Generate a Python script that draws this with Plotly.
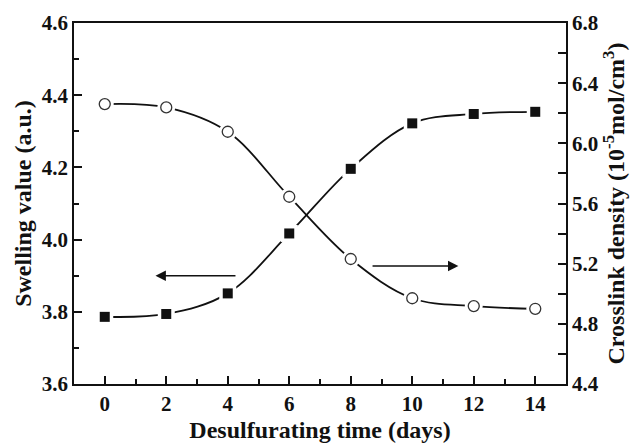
import plotly.graph_objects as go

# Desulfurating time (days)
days = [0, 2, 4, 6, 8, 10, 12, 14]
# Swelling value (a.u.), left axis
swelling = [3.786, 3.794, 3.851, 4.017, 4.196, 4.322, 4.348, 4.354]
# Crosslink density (10^-5 mol/cm^3), right axis
crosslink = [6.261, 6.239, 6.077, 5.645, 5.231, 4.970, 4.918, 4.900]

x_ticks = [0, 2, 4, 6, 8, 10, 12, 14]
left_ticks = [3.6, 3.8, 4.0, 4.2, 4.4, 4.6]
right_ticks = [4.4, 4.8, 5.2, 5.6, 6.0, 6.4, 6.8]

FONT = "Liberation Serif"
INK = "#111111"

fig = go.Figure()

# smooth connecting curves
fig.add_trace(go.Scatter(x=days, y=swelling, mode="lines",
                         line=dict(color=INK, width=1.8, shape="spline", smoothing=1.0),
                         hoverinfo="skip", showlegend=False))
fig.add_trace(go.Scatter(x=days, y=crosslink, yaxis="y2", mode="lines",
                         line=dict(color=INK, width=1.8, shape="spline", smoothing=1.0),
                         hoverinfo="skip", showlegend=False))

# white halos leave small gaps between curve and symbols
fig.add_trace(go.Scatter(x=days, y=swelling, mode="markers",
                         marker=dict(symbol="square", size=17, color="white", line=dict(width=0)),
                         hoverinfo="skip", showlegend=False))
fig.add_trace(go.Scatter(x=days, y=crosslink, yaxis="y2", mode="markers",
                         marker=dict(symbol="circle", size=18, color="white", line=dict(width=0)),
                         hoverinfo="skip", showlegend=False))

# symbols
fig.add_trace(go.Scatter(x=days, y=swelling, mode="markers", name="Swelling value",
                         marker=dict(symbol="square", size=10, color=INK, line=dict(width=0)),
                         showlegend=False))
fig.add_trace(go.Scatter(x=days, y=crosslink, yaxis="y2", mode="markers", name="Crosslink density",
                         marker=dict(symbol="circle", size=11, color="white",
                                     line=dict(width=1.3, color="#333333")),
                         showlegend=False))

# arrows pointing to the axis each curve belongs to
fig.add_annotation(x=1.65, y=3.9, ax=4.3, ay=3.9, xref="x", yref="y", axref="x", ayref="y",
                   text="", showarrow=True, arrowhead=2, arrowsize=1.3, arrowwidth=1.6,
                   arrowcolor=INK)
fig.add_annotation(x=11.5, y=5.184, ax=8.66, ay=5.184, xref="x", yref="y2", axref="x", ayref="y2",
                   text="", showarrow=True, arrowhead=2, arrowsize=1.3, arrowwidth=1.6,
                   arrowcolor=INK)

tick_font = dict(family=FONT, size=21, color=INK, weight="bold")
title_font = dict(family=FONT, size=24, color=INK, weight="bold")

axis_common = dict(showgrid=False, zeroline=False, showline=True, linecolor=INK, linewidth=1.6,
                   ticks="inside", ticklen=8, tickwidth=1.5, tickcolor=INK,
                   tickfont=tick_font, automargin=False)

fig.update_layout(
    width=637, height=444,
    margin=dict(l=74, r=71, t=23, b=60),
    paper_bgcolor="white", plot_bgcolor="white",
    font=dict(family=FONT, color=INK),
    xaxis=dict(**axis_common, range=[-1, 15], tickvals=x_ticks, mirror=True,
               minor=dict(ticks="inside", dtick=1, tick0=1, ticklen=5, tickwidth=1.5, tickcolor=INK),
               title=dict(text="Desulfurating time (days)", standoff=6, font=title_font)),
    yaxis=dict(**axis_common, range=[3.6, 4.6], tickvals=left_ticks, tickformat=".1f",
               minor=dict(ticks="inside", dtick=0.1, tick0=3.7, ticklen=5, tickwidth=1.5, tickcolor=INK),
               title=dict(text="Swelling value (a.u.)", standoff=3, font=title_font)),
    yaxis2=dict(**axis_common, range=[4.4, 6.8], tickvals=right_ticks, tickformat=".1f",
                overlaying="y", side="right",
                minor=dict(ticks="inside", dtick=0.2, tick0=4.6, ticklen=8, tickwidth=1.5, tickcolor=INK),
                title=dict(text="Crosslink density (10<sup>-5</sup>mol/cm<sup>3</sup>)", standoff=3,
                           font=title_font)),
)

fig.write_html("out.html")
